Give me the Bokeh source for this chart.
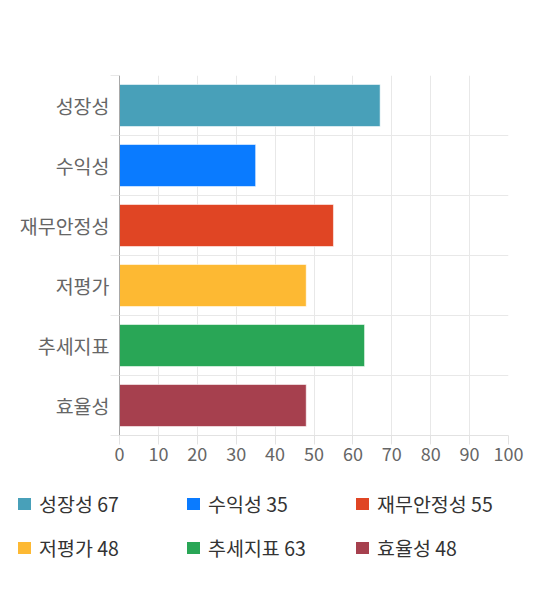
from bokeh.plotting import figure
from bokeh.models import Range1d, FixedTicker, ColumnDataSource, Div
from bokeh.layouts import column
from bokeh.embed import file_html
from bokeh.resources import INLINE

categories = ["성장성", "수익성", "재무안정성", "저평가", "추세지표", "효율성"]
scores = [67, 35, 55, 48, 63, 48]
colors = ["#48a0b9", "#0a7bff", "#e04524", "#fdb933", "#29a656", "#a6404e"]
x_ticks = [0, 10, 20, 30, 40, 50, 60, 70, 80, 90, 100]

FONT = "Noto Sans CJK KR"
n = len(categories)
ypos = [n - 0.5 - i for i in range(n)]

p = figure(width=532, height=470, output_backend="svg", toolbar_location=None,
           x_range=Range1d(0, 100), y_range=Range1d(0, n),
           frame_width=389, frame_height=360,
           min_border_left=119, min_border_top=75, min_border_right=24, min_border_bottom=35)
p.outline_line_color = None

src = ColumnDataSource(dict(y=ypos, right=scores, color=colors, cat=categories))
r = p.hbar(y="y", left=0, right="right", height=0.7, fill_color="color",
           line_color="white", line_alpha=0.55, line_width=1, source=src)

# grids
p.xgrid.ticker = FixedTicker(ticks=x_ticks)
p.xgrid.grid_line_color = "#e8e8e8"
p.ygrid.ticker = FixedTicker(ticks=list(range(n + 1)))
p.ygrid.grid_line_color = "#e8e8e8"

# x axis
xa = p.xaxis[0]
xa.ticker = FixedTicker(ticks=x_ticks)
xa.axis_line_color = "#e2e2e2"
xa.major_tick_line_color = "#e2e2e2"
xa.major_tick_out = 9
xa.major_tick_in = 0
xa.minor_tick_line_color = None
xa.major_label_text_font = FONT
xa.major_label_text_font_size = "18px"
xa.major_label_text_color = "#666666"
xa.major_label_standoff = 2

# y axis
ya = p.yaxis[0]
ya.ticker = FixedTicker(ticks=ypos, minor_ticks=list(range(n + 1)))
ya.major_label_overrides = {y: c for y, c in zip(ypos, categories)}
ya.axis_line_color = "#a8a8a8"
ya.major_tick_line_color = None
ya.major_tick_out = 0
ya.major_tick_in = 0
ya.minor_tick_line_color = "#e8e8e8"
ya.minor_tick_out = 9
ya.minor_tick_in = 0
ya.major_label_text_font = FONT
ya.major_label_text_font_size = "19.5px"
ya.major_label_text_color = "#666666"
ya.major_label_standoff = 1

# legend (HTML panel under the chart)
parts = []
for i, (c, v, col) in enumerate(zip(categories, scores, colors)):
    left = 18 + (i % 3) * 169
    top = 34 + (i // 3) * 44 - 14
    parts.append(
        f'<div style="position:absolute;left:{left}px;top:{top}px;height:28px;'
        f'display:flex;align-items:center;white-space:nowrap;">'
        f'<span style="display:inline-block;width:12.5px;height:12.5px;background:{col};'
        f'margin-right:8.5px;"></span>'
        f'<span>{c} {v}</span></div>'
    )
html = (f'<div style="position:relative;width:532px;height:104px;'
        f'font-family:\'{FONT}\';font-size:19.5px;color:#333333;">'
        + "".join(parts) + '</div>')
leg = Div(text=html, width=532, height=104, margin=(0, 0, 0, 0))

layout = column(p, leg, spacing=0)
open("out.html", "w").write(file_html(layout, INLINE))
